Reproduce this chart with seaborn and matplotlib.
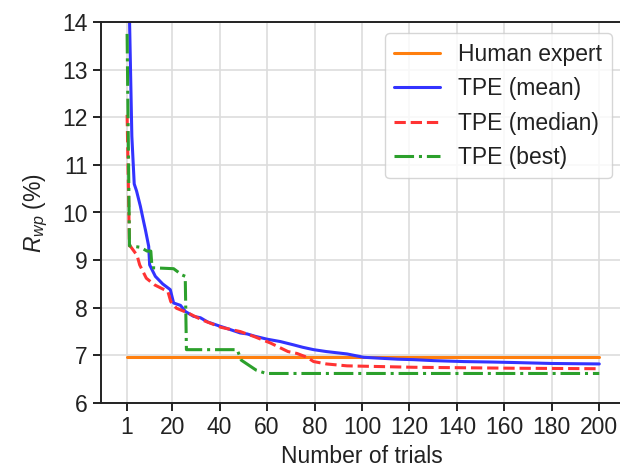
import numpy as np
import pandas as pd
import matplotlib
matplotlib.use("Agg")
import matplotlib.pyplot as plt
import seaborn as sns

# valores
human_x = [1, 200]
human_y = [6.96, 6.96]

mean_x = [1, 2, 3, 4, 5, 6.6, 8, 8.7, 10.1, 10.5, 12.9, 16, 19.2, 20.6, 23.5, 25.6,
          29, 31.9, 35, 40.3, 44, 48.7, 51.6, 55, 60, 65.6, 71.2, 75, 79.6, 85,
          93.7, 100.7, 107.7, 115, 121.8, 130, 142.8, 155, 164, 180, 200]
mean_y = [22.0, 14.1, 11.6, 10.6, 10.45, 10.13, 9.8, 9.64, 9.29, 8.9, 8.66, 8.5, 8.38, 8.1, 8.05, 7.92,
          7.82, 7.79, 7.7, 7.61, 7.55, 7.47, 7.45, 7.4, 7.34, 7.29, 7.22, 7.17, 7.12, 7.08,
          7.03, 6.96, 6.94, 6.92, 6.91, 6.89, 6.87, 6.86, 6.85, 6.83, 6.82]

median_x = [1, 2, 2.4, 5.2, 6.3, 9.1, 12.6, 18.2, 19.4, 21.8, 26.7, 32.3, 40.5, 48.7,
            54.3, 61.4, 68.8, 72.6, 76.8, 79.6, 85, 93.7, 121.8, 164, 200]
median_y = [12.05, 9.3, 9.29, 9.1, 8.9, 8.62, 8.48, 8.34, 8.13, 7.99, 7.89, 7.75, 7.59, 7.5,
            7.4, 7.26, 7.08, 7.04, 6.96, 6.87, 6.82, 6.78, 6.75, 6.73, 6.72]

best_x = [1, 2, 6.6, 9.4, 11, 11.5, 20.6, 24.1, 25.5, 26, 47.4, 49.1, 55.4, 59.6, 200]
best_y = [13.75, 9.3, 9.27, 9.19, 9.19, 8.84, 8.82, 8.69, 8.66, 7.12, 7.12, 6.9, 6.69, 6.62, 6.62]

xticks = [1, 20, 40, 60, 80, 100, 120, 140, 160, 180, 200]

sns.set_theme(style="whitegrid")
plt.rcParams['font.family'] = ['Liberation Sans', 'DejaVu Sans']
plt.rcParams['mathtext.fontset'] = 'custom'
plt.rcParams['mathtext.rm'] = 'Liberation Sans'
plt.rcParams['mathtext.it'] = 'Liberation Sans:italic'
plt.rcParams['font.size'] = 16.5

fig = plt.figure(figsize=(6.2, 4.67), dpi=100)
ax = fig.add_axes([101 / 620, 64 / 467, 522 / 620, 381 / 467])

sns.lineplot(x=human_x, y=human_y, ax=ax, color='#ff7f0e', lw=2.2, label='Human expert',
             sort=False, estimator=None)
sns.lineplot(x=mean_x, y=mean_y, ax=ax, color='#3333ff', lw=2.2, label='TPE (mean)',
             sort=False, estimator=None)
sns.lineplot(x=median_x, y=median_y, ax=ax, color='#ff3333', lw=2.2, ls='--', label='TPE (median)',
             sort=False, estimator=None)
sns.lineplot(x=best_x, y=best_y, ax=ax, color='#2ca02c', lw=2.2, ls='-.', label='TPE (best)',
             sort=False, estimator=None)

ax.set_xlim(-10, 210)
ax.set_ylim(6, 14)
ax.set_xticks(xticks)
ax.set_yticks(range(6, 15))
ax.tick_params(labelsize=16.5, length=6, width=1.4, color='#222222', direction='out',
               left=True, bottom=True, colors='#222222')
ax.grid(True, color='#dddddd', lw=1.2)
for s in ax.spines.values():
    s.set_color('#222222')
    s.set_linewidth(1.4)

ax.set_xlabel('Number of trials', fontsize=16.5, color='#222222')
ax.set_ylabel(r'$R_{wp}$ (%)', fontsize=16.5, color='#222222', labelpad=9)

leg = ax.legend(loc='upper right', fontsize=16.5, frameon=True, fancybox=True)
leg.get_frame().set_edgecolor('#cccccc')
for t in leg.get_texts():
    t.set_color('#222222')

fig.savefig('out.png', dpi=100)
